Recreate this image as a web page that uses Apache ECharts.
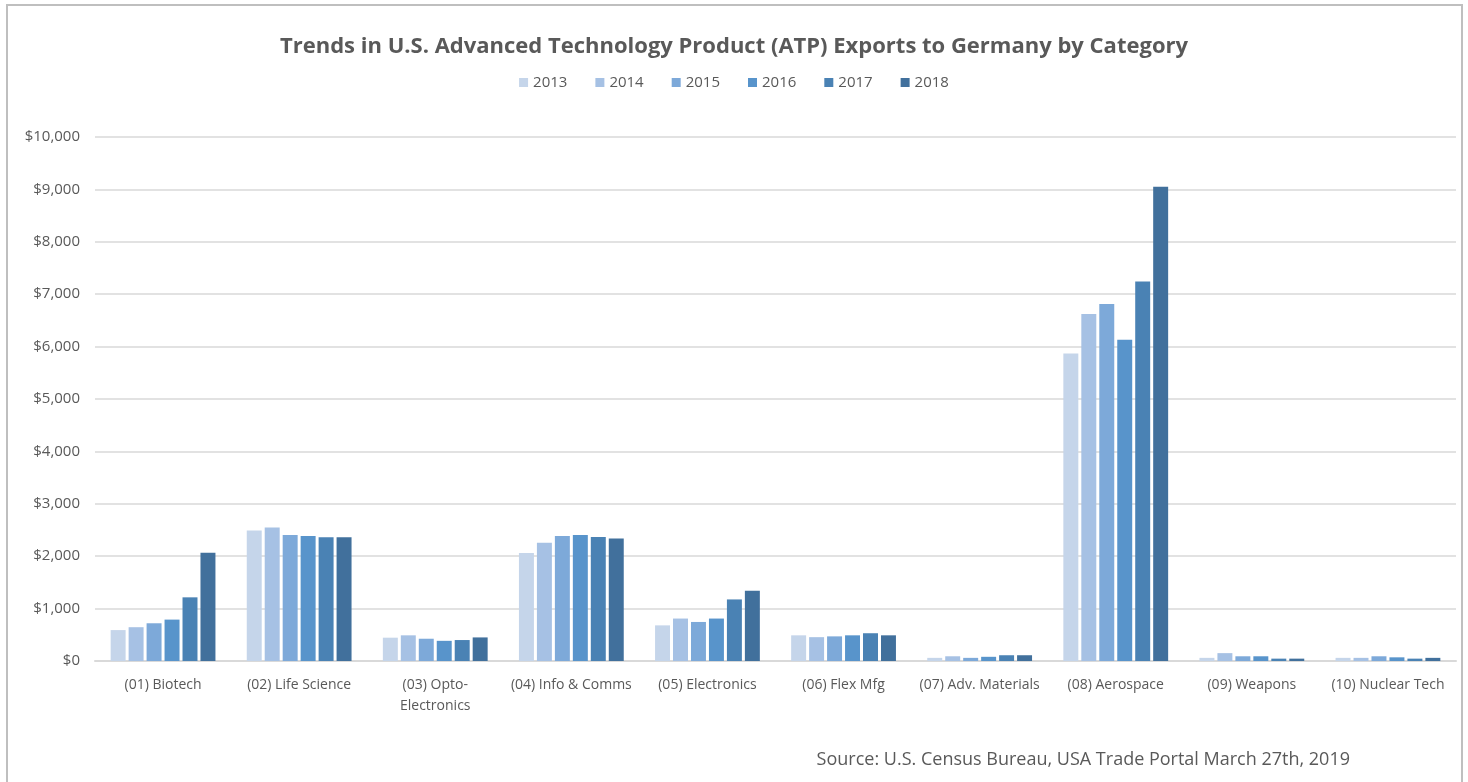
<!DOCTYPE html>
<html>
<head>
<meta charset="utf-8">
<script src="https://cdn.jsdelivr.net/npm/echarts@6/dist/echarts.min.js"></script>
<style>
	* { margin: 0; padding: 0; }
	html, body { width: 1468px; height: 782px; background: #fff; overflow: hidden; }
	#main { width: 1468px; height: 782px; }
</style>
</head>
<body>
<div id="main"></div>
<script>
	// categories and yearly values (US$ millions)
	var categories = ['(01) Biotech', '(02) Life Science', '(03) Opto-\nElectronics', '(04) Info & Comms',
		'(05) Electronics', '(06) Flex Mfg', '(07) Adv. Materials', '(08) Aerospace', '(09) Weapons', '(10) Nuclear Tech'];
	var years = ['2013', '2014', '2015', '2016', '2017', '2018'];
	var v2013 = [590, 2490, 445, 2060, 680, 490, 60, 5870, 60, 60];
	var v2014 = [645, 2550, 490, 2255, 810, 455, 90, 6620, 150, 60];
	var v2015 = [720, 2405, 425, 2385, 745, 470, 60, 6815, 90, 90];
	var v2016 = [790, 2385, 385, 2405, 810, 490, 80, 6130, 90, 70];
	var v2017 = [1215, 2360, 400, 2365, 1175, 530, 110, 7240, 45, 45];
	var v2018 = [2065, 2360, 450, 2340, 1340, 490, 110, 9050, 45, 60];
	var colors = ['#c5d5ea', '#a6c1e4', '#7da9d9', '#5894cb', '#4a82b4', '#41709c'];

	var font = "'Open Sans', sans-serif";
	var allData = [v2013, v2014, v2015, v2016, v2017, v2018];
	var series = years.map(function (y, i) {
		return {
			name: y,
			type: 'bar',
			data: allData[i],
			barGap: '20%',
			barCategoryGap: '23%',
			itemStyle: { color: colors[i] }
		};
	});

	var chart = echarts.init(document.getElementById('main'));
	chart.setOption({
		animation: false,
		color: colors,
		title: {
			text: 'Trends in U.S. Advanced Technology Product (ATP) Exports to Germany by Category',
			left: 'center',
			top: 31,
			textStyle: { fontFamily: font, fontSize: 22, fontWeight: 'bold', color: '#595959' }
		},
		legend: {
			data: years,
			top: 70,
			left: 'center',
			itemWidth: 9,
			itemHeight: 9,
			itemGap: 28,
			icon: 'rect',
			textStyle: { fontFamily: font, fontSize: 15, color: '#595959' }
		},
		grid: { left: 95, right: 12, top: 137, bottom: 121 },
		xAxis: {
			type: 'category',
			data: categories,
			axisLine: { lineStyle: { color: '#d9d9d9', width: 2 } },
			axisTick: { show: false },
			axisLabel: { interval: 0, fontFamily: font, fontSize: 14, color: '#595959', margin: 14, lineHeight: 21 }
		},
		yAxis: {
			type: 'value',
			min: 0,
			max: 10000,
			interval: 1000,
			axisLine: { show: false },
			axisTick: { show: false },
			splitLine: { lineStyle: { color: '#d9d9d9', width: 1.5 } },
			axisLabel: {
				fontFamily: font, fontSize: 15, color: '#595959', margin: 15,
				formatter: function (v) { return '$' + v.toLocaleString('en-US'); }
			}
		},
		series: series,
		graphic: [{
			type: 'polyline',
			shape: { points: [[7, 782], [7, 5], [1462, 5], [1462, 782]] },
			style: { stroke: '#bfbfbf', lineWidth: 2, fill: null }
		}, {
			type: 'text',
			right: 118,
			top: 751,
			style: { text: 'Source: U.S. Census Bureau, USA Trade Portal March 27th, 2019', font: '18px ' + font, fill: '#595959' }
		}]
	});
</script>
</body>
</html>
